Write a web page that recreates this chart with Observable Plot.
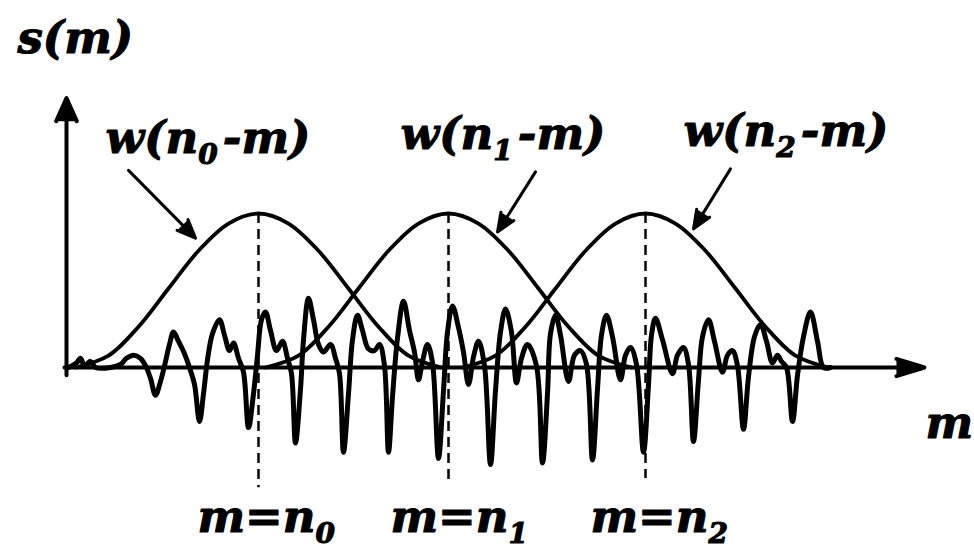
<!DOCTYPE html>
<html>
<head>
<meta charset="utf-8">
<script src="https://cdn.jsdelivr.net/npm/d3@7"></script>
<script src="https://cdn.jsdelivr.net/npm/@observablehq/plot@0.6"></script>
<style>
html, body { margin: 0; padding: 0; background: #fff; }
#chart svg { display: block; }
</style>
</head>
<body>
<div id="chart"></div>
<script>
// ---- signal s(m): sample index m and amplitude (window peak = 1) ----
const sigM = [
  1, 5, 7, 9, 12, 14.5, 22, 27, 30, 33.5,
  37, 40, 42, 44.5, 47, 49, 51.5, 53.5, 56, 59,
  61.5, 64, 66.5, 68.5, 70.5, 73, 76.5, 79, 81.5, 83.5,
  86, 88.5, 91, 93.5, 95.5, 97.5, 99.5, 102, 105, 108,
  110.5, 112.5, 114.5, 117, 118.5, 121, 123.5, 126, 128.5, 132,
  134.5, 136.5, 138.5, 141, 143, 145.5, 148, 151, 154, 156.5,
  159, 161, 163, 165.5, 168.5, 171.5, 174, 176, 178, 180.5,
  183, 186, 188.5, 190.5, 193, 196, 198.5, 201, 203.5, 206,
  209, 212, 214.5, 217, 219.5, 222.5, 225, 227.5, 230.5, 235,
  238, 240.5, 242, 244.5, 247, 251, 254, 257, 260, 263,
  265.5, 267.5, 270, 273, 277, 279.5, 282, 285, 288.5, 291,
  292.5, 294.5, 298, 303, 305.5, 308.5, 311, 313.5, 316, 318,
  321, 324, 328, 330.5, 333, 335.5, 338.5, 341, 344, 347,
  350, 353, 355.5, 357.5, 360, 363, 365.5, 368.5, 372, 375.5,
  378.5, 382
];
const sigS = [
  0, .03, .06, .01, .04, 0, 0, .02, .06, .08,
  .06, 0, -.07, -.18, -.09, .01, .15, .23, .17, .09,
  0, -.11, -.35, -.17, .05, .22, .31, .21, .11, .16,
  .06, -.03, -.39, -.17, .08, .31, .36, .24, .11, .17,
  .06, -.04, -.49, -.14, .18, .45, .31, .15, .10, .15,
  .06, -.04, -.55, -.17, .18, .34, .24, .12, .11, .15,
  .01, -.55, -.19, .19, .43, .24, .10, -.08, .04, .15,
  .03, -.59, -.15, .23, .40, .26, .10, -.11, .07, .17,
  .01, -.63, -.15, .23, .38, .23, -.10, .06, .15, .01,
  -.62, -.17, .22, .34, .21, -.09, .08, .11, .02, -.60,
  -.14, .21, .34, .20, -.08, .08, .13, .02, -.55, -.11,
  .21, .32, .18, -.04, .08, .13, .02, -.48, -.08, .20,
  .31, .17, -.03, .08, .11, .01, -.40, -.06, .20, .28,
  .17, .03, .08, .04, 0, -.35, -.05, .20, .36, .17,
  0, 0
];

// ---- analysis windows w(n_k - m) ----
const win0M = [4.5, 21, 36, 51, 66, 81, 96, 111, 126, 141, 156, 171, 187.5];
const win1M = [99.5, 116, 131, 146, 161, 176, 191, 206, 221, 236, 251, 266, 282.5];
const win2M = [198, 214.5, 229.5, 244.5, 259.5, 274.5, 289.5, 304.5, 319.5, 334.5, 349.5, 364.5, 381];
const winW  = [0, 0.077, 0.265, 0.513, 0.758, 0.935, 1, 0.935, 0.758, 0.513, 0.265, 0.077, 0];

// window centres n0, n1, n2 and the ends of their dashed markers
const centers = [96, 191, 289.5];
const dashEnd = [-0.78, -0.75, -0.72];

// labels
const windowLabels = ["w(n_0-m)", "w(n_1-m)", "w(n_2-m)"];
const windowLabelM = [19.5, 167, 308.5];
const windowLabelS = [1.39, 1.42, 1.44];
const pointerFromM = [31, 234.5, 332];
const pointerFromS = [1.28, 1.27, 1.29];
const pointerToM = [64.5, 215.5, 313.5];
const pointerToS = [0.84, 0.88, 0.90];
const positionLabels = ["m=n_0", "m=n_1", "m=n_2"];
const positionLabelM = [65.5, 162, 262];
const positionLabelS = -1.07;
const axisLabelY = "s(m)";
const axisLabelX = "m";

// ---- build tables ----
const signal = sigM.map((m, i) => ({m, s: sigS[i]}));
const windows = [win0M, win1M, win2M].flatMap((ms, k) => ms.map((m, i) => ({k, m, w: winW[i]})));
const markers = centers.map((c, i) => ({m: c, top: 1, bottom: dashEnd[i]}));
const wLabels = windowLabels.map((t, i) => ({t, m: windowLabelM[i], s: windowLabelS[i]}));
const pointers = pointerFromM.map((m, i) => ({x1: m, y1: pointerFromS[i], x2: pointerToM[i], y2: pointerToS[i]}));
const pLabels = positionLabels.map((t, i) => ({t, m: positionLabelM[i], s: positionLabelS}));

const font = {
  fontFamily: "DejaVu Serif",
  fontStyle: "italic",
  fontWeight: "bold",
  fontSize: 45,
  fill: "black",
  stroke: "black",
  strokeWidth: 1.1,
  textAnchor: "start",
  lineAnchor: "bottom"
};

const plot = Plot.plot({
  width: 974,
  height: 554,
  margin: 0,
  x: {domain: [-33, 454], axis: null},
  y: {domain: [-1.214, 2.383], axis: null},
  marks: [
    // axes with arrowheads
    Plot.arrow([{x1: 0, y1: -0.05, x2: 0, y2: 1.75}], {
      x1: "x1", y1: "y1", x2: "x2", y2: "y2",
      stroke: "black", fill: "black", strokeWidth: 4, headLength: 9.5, headAngle: 48
    }),
    Plot.arrow([{x1: -1, y1: 0, x2: 429, y2: 0}], {
      x1: "x1", y1: "y1", x2: "x2", y2: "y2",
      stroke: "black", fill: "black", strokeWidth: 4, headLength: 11, headAngle: 34
    }),
    // dashed markers at n0, n1, n2
    Plot.ruleX(markers, {x: "m", y1: "top", y2: "bottom", stroke: "black", strokeWidth: 2.5, strokeDasharray: "10,6"}),
    // windows
    Plot.line(windows, {x: "m", y: "w", z: "k", stroke: "black", strokeWidth: 3.8, curve: "catmull-rom"}),
    // signal
    Plot.line(signal, {x: "m", y: "s", stroke: "black", strokeWidth: 5, curve: "catmull-rom", strokeLinejoin: "round"}),
    // pointers from labels to windows
    Plot.arrow(pointers, {
      x1: "x1", y1: "y1", x2: "x2", y2: "y2",
      stroke: "black", fill: "black", strokeWidth: 3, headLength: 10, headAngle: 45
    }),
    // texts
    Plot.text(wLabels, {x: "m", y: "s", text: "t", ...font}),
    Plot.text(pLabels, {x: "m", y: "s", text: "t", ...font}),
    Plot.text([axisLabelY], {x: -24.5, y: 2.045, text: d => d, ...font}),
    Plot.text([axisLabelX], {x: 429.5, y: -0.455, text: d => d, ...font})
  ]
});

// subscripts: "n_0" -> n with a lowered, smaller 0
const NS = "http://www.w3.org/2000/svg";
for (const t of plot.querySelectorAll("text")) {
  const s = t.textContent;
  const i = s.indexOf("_");
  if (i < 0) continue;
  const parts = [[s.slice(0, i), {}], [s[i + 1], {dy: 11, "font-size": 28}], [s.slice(i + 2), {dy: -11, dx: 5}]];
  t.textContent = "";
  for (const [txt, attrs] of parts) {
    if (!txt) continue;
    const ts = document.createElementNS(NS, "tspan");
    ts.textContent = txt;
    for (const k in attrs) ts.setAttribute(k, attrs[k]);
    t.appendChild(ts);
  }
}

document.getElementById("chart").append(plot);
</script>
</body>
</html>
